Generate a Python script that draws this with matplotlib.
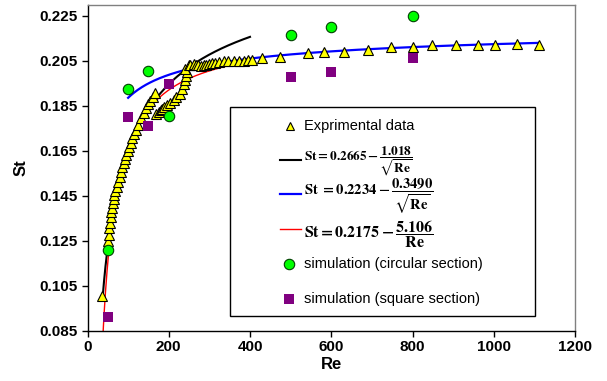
import numpy as np
import matplotlib
matplotlib.use("Agg")
import matplotlib.pyplot as plt
from matplotlib.lines import Line2D
from matplotlib.patches import Rectangle

plt.rcParams["font.family"] = ["Liberation Sans", "DejaVu Sans"]
plt.rcParams["mathtext.fontset"] = "stix"

# ---- experimental data (Re, St) ----
re_exp = [35, 50, 52, 53.6, 55.2, 56.8, 58.5, 60.2, 61.8, 64.3, 66, 68.4, 72.5, 76, 79,
          82.4, 85.7, 89, 92.3, 95.6, 98.8, 102, 107, 110, 115, 120, 125, 132, 138, 144,
          149, 155, 161, 167,
          168, 175, 180, 184, 188, 196, 204, 212, 219, 227, 233, 237, 240, 243, 245,
          241, 249, 253, 261, 266, 273, 280, 286, 292, 298, 306, 314, 323, 335, 347,
          360, 372, 384, 395, 405, 430, 474, 542, 583, 632, 690, 747, 801, 849, 906,
          960, 1002, 1058, 1112]
st_exp = [0.1002, 0.1246, 0.1275, 0.1305, 0.1330, 0.1354, 0.1376, 0.1397, 0.1416, 0.1435,
          0.1453, 0.1472, 0.1488, 0.1510, 0.1534, 0.1557, 0.1576, 0.1594, 0.1612, 0.1631,
          0.1649, 0.1668, 0.1686, 0.1705, 0.1724, 0.1742, 0.1764, 0.1794, 0.1816, 0.1838,
          0.1858, 0.1872, 0.1890, 0.1905,
          0.1815, 0.1823, 0.1830, 0.1834, 0.1846, 0.1855, 0.1864, 0.1876, 0.1888, 0.1903,
          0.1925, 0.1945, 0.1962, 0.1980, 0.1998,
          0.2013, 0.2032, 0.2031, 0.2035, 0.2033, 0.2030, 0.2028, 0.2030, 0.2032, 0.2035,
          0.2040, 0.2041, 0.2043, 0.2047, 0.2047, 0.2050, 0.2050, 0.2048, 0.2052, 0.2055,
          0.2064, 0.2066, 0.2083, 0.2090, 0.2090, 0.2098, 0.2110, 0.2112, 0.2120, 0.2121,
          0.2120, 0.2120, 0.2123, 0.2120]

# ---- simulations ----
re_circ = [50, 100, 150, 200, 500, 600, 800]
st_circ = [0.1209, 0.1924, 0.2003, 0.1804, 0.2163, 0.2200, 0.2250]
re_sq = [50, 100, 150, 200, 500, 600, 800]
st_sq = [0.0908, 0.1800, 0.1760, 0.1948, 0.1979, 0.2001, 0.2063]

# ---- correlation coefficients and the Re ranges they are drawn over ----
black_a, black_b, black_range = 0.2665, 1.018, (37, 400)
blue_a, blue_b, blue_range = 0.2234, 0.3490, (100, 1110)
red_a, red_b, red_range = 0.2175, 5.106, (37, 400)

x_ticks = [0, 200, 400, 600, 800, 1000, 1200]
y_ticks = [0.085, 0.105, 0.125, 0.145, 0.165, 0.185, 0.205, 0.225]

W, H = 607, 381
fig = plt.figure(figsize=(W / 100, H / 100), dpi=100)
ax = fig.add_axes([87.5 / W, (H - 330.5) / H, (575 - 87.5) / W, (330.5 - 4.5) / H])

re_b = np.linspace(*black_range, 300)
re_u = np.linspace(*blue_range, 300)
re_r = np.linspace(*red_range, 300)
ax.plot(re_b, black_a - black_b / np.sqrt(re_b), color="black", lw=1.5, zorder=2)
ax.plot(re_u, blue_a - blue_b / np.sqrt(re_u), color="#0000FF", lw=1.6, zorder=2)
ax.plot(re_r, red_a - red_b / re_r, color="#FF0000", lw=1.0, zorder=2)

tri_style = dict(marker="^", ms=7, mfc="#FFFF00", mec="black", mew=0.8, ls="none")
circ_style = dict(marker="o", ms=7.5, mfc="#00FF00", mec="#004000", mew=0.8, ls="none")
sq_style = dict(marker="s", ms=7, mfc="#800080", mec="#800080", mew=0, ls="none")

ax.plot(re_exp, st_exp, zorder=3, **tri_style)
ax.plot(re_circ, st_circ, zorder=4, **circ_style)
ax.plot(re_sq, st_sq, zorder=4, **sq_style)

ax.set_xlim(0, 1200)
ax.set_ylim(0.085, 0.23)
ax.set_xticks(x_ticks)
ax.set_yticks(y_ticks)
ax.set_yticklabels([f"{v:.3f}" for v in y_ticks])
ax.tick_params(direction="out", length=4, width=1, labelsize=11, pad=3)
for lab in ax.get_xticklabels() + ax.get_yticklabels():
    lab.set_fontweight("bold")
ax.spines["left"].set_color("black")
ax.spines["bottom"].set_color("black")
ax.spines["top"].set_color("#808080")
ax.spines["right"].set_color("#808080")
for s in ax.spines.values():
    s.set_linewidth(1.0)

ax.set_xlabel("Re", fontsize=12, fontweight="bold", labelpad=2)
ax.set_ylabel("St", fontsize=12, fontweight="bold", labelpad=8)

# ---- legend box ----
def fx(px):
    return px / W

def fy(py):
    return 1 - py / H

fig.patches.append(Rectangle((fx(230), fy(316)), fx(535) - fx(230), fy(107) - fy(316),
                             transform=fig.transFigure, facecolor="white",
                             edgecolor="black", lw=1.0, zorder=5))

def leg_marker(px, py, style):
    fig.lines.append(Line2D([fx(px)], [fy(py)], transform=fig.transFigure, zorder=6, **style))

def leg_line(py, color, lw):
    fig.lines.append(Line2D([fx(280), fx(301)], [fy(py), fy(py)], transform=fig.transFigure,
                            color=color, lw=lw, zorder=6))

leg_marker(290, 126, dict(tri_style, ms=6))
fig.text(fx(304), fy(126), "Exprimental data", fontsize=10.5, va="center", zorder=6)

leg_line(160, "black", 1.5)
fig.text(fx(304), fy(161),
         r"$\mathbf{St = 0.2665 - \dfrac{1.018}{\sqrt{Re}}}$",
         fontsize=9.5, va="center", zorder=6)

leg_line(194, "#0000FF", 1.6)
fig.text(fx(304), fy(196),
         r"$\mathbf{St\ = 0.2234 - \dfrac{0.3490}{\sqrt{Re}}}$",
         fontsize=10.5, va="center", zorder=6)

leg_line(229, "#FF0000", 1.0)
fig.text(fx(304), fy(234),
         r"$\mathbf{St = 0.2175 - \dfrac{5.106}{Re}}$",
         fontsize=11.5, va="center", zorder=6)

leg_marker(289, 264, circ_style)
fig.text(fx(304), fy(264), "simulation (circular section)", fontsize=10.5, va="center", zorder=6)

leg_marker(289, 299, sq_style)
fig.text(fx(304), fy(299), "simulation (square section)", fontsize=10.5, va="center", zorder=6)

fig.savefig("out.png", dpi=100)
